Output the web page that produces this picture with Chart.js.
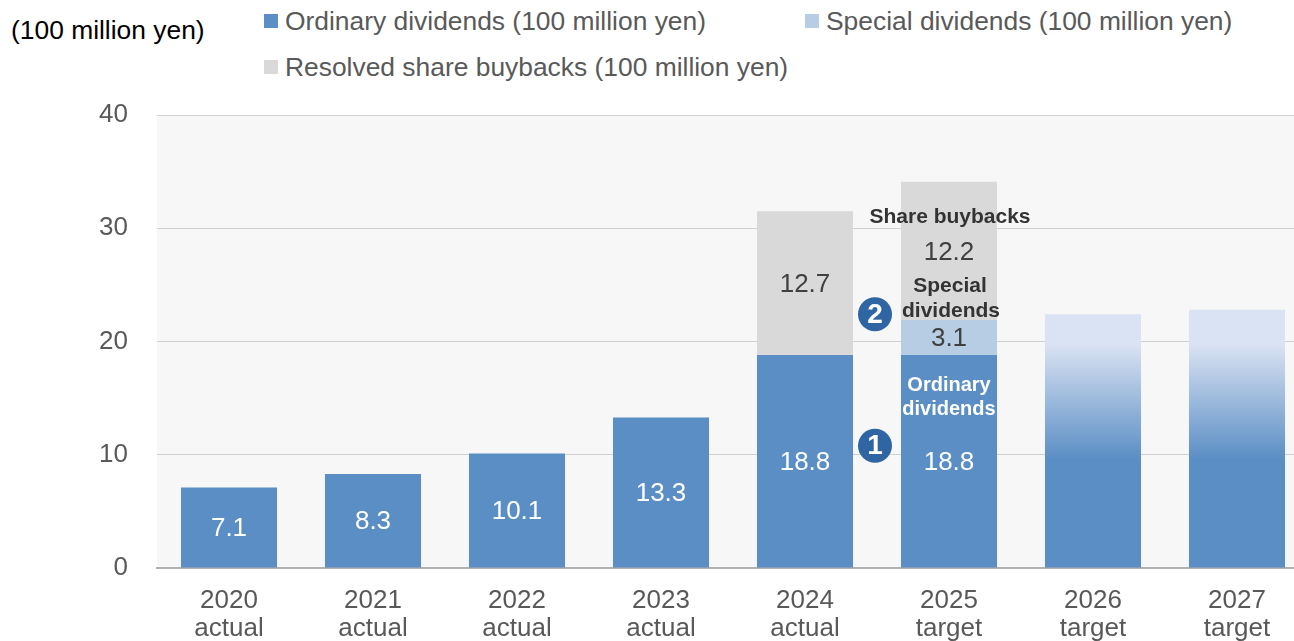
<!DOCTYPE html>
<html>
<head>
<meta charset="utf-8">
<script src="https://cdn.jsdelivr.net/npm/chart.js@4"></script>
<style>
  html, body { margin: 0; padding: 0; background: #fff; overflow: hidden; width: 1294px; height: 641px; }
  body { position: relative; font-family: "Liberation Sans", Arial, sans-serif; }
  #myChart { position: absolute; left: 0; top: 0; }
  .unit { position: absolute; left: 11px; top: 16px; font-size: 26.4px; line-height: 28px; color: #000; white-space: nowrap; }
  .leg { position: absolute; font-size: 26.4px; color: #595959; white-space: nowrap; line-height: 28px; display: flex; align-items: center; }
  .leg span { display: inline-block; width: 14px; height: 14px; margin-right: 7px; }
</style>
</head>
<body>
<div class="unit">(100 million yen)</div>
<div class="leg" style="left:264px;top:7px"><span style="background:#5b8ec4"></span>Ordinary dividends (100 million yen)</div>
<div class="leg" style="left:805px;top:7px"><span style="background:#b7cde3"></span>Special dividends (100 million yen)</div>
<div class="leg" style="left:264px;top:53px"><span style="background:#d9d9d9"></span>Resolved share buybacks (100 million yen)</div>
<canvas id="myChart" width="1310" height="641"></canvas>
<script>
// data
const categories = [['2020', 'actual'], ['2021', 'actual'], ['2022', 'actual'], ['2023', 'actual'],
                    ['2024', 'actual'], ['2025', 'target'], ['2026', 'target'], ['2027', 'target']];
const ordinary = [7.1, 8.3, 10.1, 13.3, 18.8, 18.8, null, null];
const special = [null, null, null, null, null, 3.1, null, null];
const buybacks = [null, null, null, null, 12.7, 12.2, null, null];
const targets = [null, null, null, null, null, null, 22.4, 22.8];
const yTicks = [0, 10, 20, 30, 40];

const BLUE = '#5b8ec4';
const LIGHT_BLUE = '#b7cde3';
const GREY = '#d9d9d9';
const FONT = '"Liberation Sans", Arial, sans-serif';

const ctx = document.getElementById('myChart');

// grey plot background
const plotBg = {
    id: 'plotBg',
    beforeDraw(chart) {
        const a = chart.chartArea;
        chart.ctx.save();
        chart.ctx.fillStyle = '#f7f7f7';
        chart.ctx.fillRect(a.left, a.top, a.right - a.left, a.bottom - a.top);
        chart.ctx.restore();
    }
};

// value labels and the notes round the 2025 bar
const notes = {
    id: 'notes',
    afterDatasetsDraw(chart) {
        const c = chart.ctx;
        const y = chart.scales.y;
        const x = chart.scales.x;
        c.save();
        c.textAlign = 'center';
        c.textBaseline = 'middle';

        const labelSet = (dsIndex, color) => {
            const meta = chart.getDatasetMeta(dsIndex);
            const data = chart.data.datasets[dsIndex].data;
            meta.data.forEach((el, i) => {
                if (data[i] == null) return;
                c.fillStyle = color;
                c.font = '26px ' + FONT;
                c.fillText(data[i].toFixed(1), el.x, (el.y + el.base) / 2 + 1.5);
            });
        };
        labelSet(0, '#ffffff');
        labelSet(1, '#404040');
        labelSet(2, '#404040');

        const x25 = x.getPixelForValue(5);
        c.font = 'bold 21px ' + FONT;
        c.fillStyle = '#333333';
        c.fillText('Share buybacks', x25 + 1, y.getPixelForValue(30.95));
        c.fillText('Special', x25 + 1, y.getPixelForValue(24.9));
        c.fillText('dividends', x25 + 2, y.getPixelForValue(22.7));
        c.font = 'bold 20px ' + FONT;
        c.fillStyle = '#ffffff';
        c.fillText('Ordinary', x25, y.getPixelForValue(16.1));
        c.fillText('dividends', x25, y.getPixelForValue(14.0));

        // circled numbers between 2024 and 2025
        const cx = (x.getPixelForValue(4) + x.getPixelForValue(5)) / 2 - 2;
        [[1, 10.8], [2, 22.4]].forEach(([n, v]) => {
            const cy = y.getPixelForValue(v);
            c.beginPath();
            c.arc(cx, cy, 17, 0, Math.PI * 2);
            c.fillStyle = '#2f65a3';
            c.fill();
            c.fillStyle = '#ffffff';
            c.font = 'bold 28px ' + FONT;
            c.fillText(String(n), cx, cy + 1);
        });
        c.restore();
    }
};

new Chart(ctx, {
    type: 'bar',
    data: {
        labels: categories,
        datasets: [
            { label: 'Ordinary dividends (100 million yen)', data: ordinary, backgroundColor: BLUE },
            { label: 'Special dividends (100 million yen)', data: special, backgroundColor: LIGHT_BLUE },
            { label: 'Resolved share buybacks (100 million yen)', data: buybacks, backgroundColor: GREY },
            {
                label: 'target',
                data: targets,
                backgroundColor: function(context) {
                    const chart = context.chart;
                    if (!chart.chartArea) return BLUE;
                    const ys = chart.scales.y;
                    const g = chart.ctx.createLinearGradient(0, ys.getPixelForValue(19.8), 0, ys.getPixelForValue(9.6));
                    g.addColorStop(0, '#dae3f3');
                    g.addColorStop(1, BLUE);
                    return g;
                }
            }
        ]
    },
    options: {
        responsive: false,
        animation: false,
        devicePixelRatio: 1,
        layout: { padding: { top: 115, left: 0, right: 1, bottom: 0 } },
        datasets: { bar: { barPercentage: 0.667, categoryPercentage: 1 } },
        plugins: { legend: { display: false }, tooltip: { enabled: false } },
        scales: {
            x: {
                stacked: true,
                grid: { display: false, drawTicks: false },
                border: { color: '#b0b0b0', width: 2 },
                ticks: { color: '#595959', font: { family: FONT, size: 26, lineHeight: 1.08 }, padding: 19, maxRotation: 0 },
                afterFit: s => { s.height = 73; }
            },
            y: {
                stacked: true,
                min: 0,
                max: 40,
                afterBuildTicks: s => { s.ticks = yTicks.map(v => ({ value: v })); },
                grid: { color: '#d0d0d0', drawTicks: false },
                border: { display: false },
                ticks: { color: '#595959', font: { family: FONT, size: 26 }, padding: 29 },
                afterFit: s => { s.width = 157; }
            }
        }
    },
    plugins: [plotBg, notes]
});
</script>
</body>
</html>
